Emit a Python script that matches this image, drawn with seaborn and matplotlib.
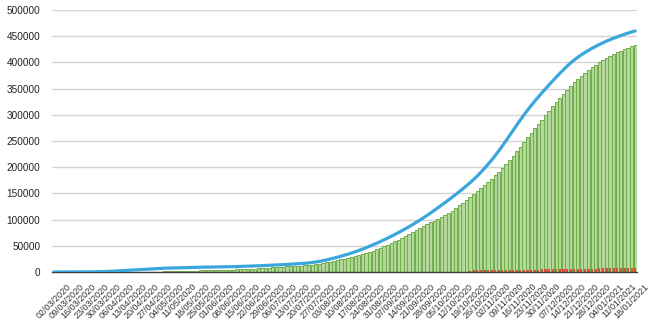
import numpy as np
import pandas as pd
import matplotlib
matplotlib.use("Agg")
import matplotlib.pyplot as plt
import matplotlib.transforms as mtransforms
import seaborn as sns

# ---- data (sampled every 2 days from 02/03/2020) ----
start_date = "2020-03-02"
step_days = 2

cases = [
    0, 10, 20, 30, 40, 60, 80, 100, 130, 170,
    250, 350, 500, 650, 800, 1000, 1500, 1800, 2200, 2600,
    3000, 3400, 3800, 4200, 4600, 5000, 5300, 5700, 6100, 6500,
    7000, 7300, 7500, 7800, 8000, 8300, 8500, 8600, 8700, 8900,
    9000, 9100, 9200, 9300, 9500, 9600, 9700, 9800, 9900, 10000,
    10200, 10400, 10500, 10800, 11000, 11300, 11600, 11800, 12100, 12400,
    12700, 13000, 13300, 13700, 14100, 14500, 14900, 15300, 15700, 16000,
    16600, 17300, 18100, 19100, 20200, 21500, 23000, 24700, 26400, 28200,
    30100, 32000, 34100, 36300, 38600, 41000, 43600, 46300, 49100, 52000,
    55000, 58100, 61300, 64600, 68000, 71500, 75100, 78800, 82600, 86500,
    90500, 94700, 99000, 103400, 108000, 112700, 117500, 122400, 127400, 132400,
    137500, 142700, 148000, 153400, 158900, 164600, 170500, 176700, 183300, 190300,
    197700, 205500, 213700, 222300, 231300, 240700, 250500, 260500, 270500, 280500,
    290300, 299800, 308900, 317600, 326000, 334100, 341900, 349600, 357200, 364700,
    372000, 379100, 386000, 392700, 399000, 404600, 409800, 414600, 419000, 423100,
    427000, 430700, 434200, 437500, 440600, 443500, 446200, 448800, 451300, 453700,
    456000, 458100, 460000,
]

green_values = [
    0, 0, 0, 0, 0, 0, 0, 0, 0, 0,
    0, 0, 0, 0, 0, 0, 0, 0, 0, 0,
    100, 150, 200, 250, 300, 400, 500, 550, 600, 700,
    800, 1000, 1200, 1400, 1600, 1800, 2000, 2200, 2400, 2600,
    2800, 2950, 3100, 3300, 3500, 3700, 3850, 4000, 4200, 4400,
    4600, 4800, 5000, 5400, 5700, 6000, 6500, 6900, 7400, 7900,
    8400, 8800, 9200, 9600, 10000, 10500, 11000, 11400, 11800, 12200,
    12600, 13000, 14000, 15100, 16200, 17400, 18600, 20000, 21300, 22600,
    24000, 25500, 27000, 28500, 30200, 32000, 34000, 36200, 38500, 41000,
    43600, 46300, 49100, 52000, 55000, 58500, 62000, 65600, 69300, 73100,
    76900, 80700, 84600, 88500, 91800, 95000, 98200, 101500, 104900, 108600,
    112600, 117000, 121800, 127000, 132500, 138000, 143500, 149000, 154600, 160300,
    166000, 171900, 178000, 184400, 191100, 198200, 205700, 213600, 221900, 230400,
    239100, 247900, 256700, 265400, 274000, 282500, 290900, 299300, 307700, 316000,
    324200, 332300, 340200, 347800, 355100, 362000, 368500, 374600, 380300, 385600,
    390600, 395400, 400000, 404400, 408500, 412300, 415800, 419000, 422000, 424900,
    427700, 430500, 433300,
]

red_values = [
    0, 0, 0, 0, 0, 0, 0, 0, 0, 0,
    0, 0, 0, 0, 0, 0, 0, 0, 0, 0,
    0, 0, 0, 0, 0, 0, 0, 0, 0, 0,
    0, 0, 0, 0, 0, 0, 0, 0, 0, 0,
    0, 0, 0, 0, 0, 0, 0, 0, 0, 0,
    0, 0, 0, 0, 0, 0, 0, 0, 0, 0,
    0, 0, 0, 0, 0, 0, 0, 0, 0, 0,
    0, 0, 0, 0, 0, 0, 0, 0, 0, 0,
    0, 0, 0, 0, 0, 0, 0, 0, 0, 0,
    0, 0, 0, 0, 0, 0, 0, 0, 0, 0,
    0, 0, 0, 0, 0, 0, 0, 0, 0, 0,
    0, 0, 0, 0, 0, 0, 2800, 2900, 3000, 3000,
    3100, 3200, 3200, 3300, 3400, 3400, 3500, 3600, 3700, 3800,
    3800, 3900, 4000, 4100, 4200, 4300, 5500, 5800, 6000, 6100,
    6200, 6300, 6300, 6400, 6400, 6500, 6500, 6500, 6600, 6600,
    6600, 6600, 6700, 6700, 6700, 6700, 6700, 6800, 6800, 6800,
    6800, 6800, 6800,
]

tick_dates = pd.date_range("2020-03-02", "2021-01-18", freq="7D")
tick_labels = list(tick_dates.strftime("%d/%m/%Y"))

# ---- build frame ----
day = np.arange(len(cases)) * step_days
df = pd.DataFrame({"day": day, "cases": cases,
                   "green": green_values, "red": red_values})

sns.set_style("white")
plt.rcParams["font.family"] = ["Liberation Sans", "DejaVu Sans"]

fig = plt.figure(figsize=(6.6, 3.3), dpi=100)
ax = fig.add_axes([52 / 660, 58 / 330, 585 / 660, 262 / 330])

sns.barplot(data=df, x="day", y="green", native_scale=True, width=0.9,
            color="#b4d89b", edgecolor="#6fae48", linewidth=0.7,
            saturation=1, errorbar=None, ax=ax)
sns.barplot(data=df, x="day", y="red", native_scale=True, width=0.6,
            color="#d9503a", saturation=1, errorbar=None, linewidth=0, ax=ax)
sns.lineplot(data=df, x="day", y="cases", color="#3ba6dc", linewidth=2.3,
             ax=ax, zorder=5)

ax.set_xlim(-1, 325)
ax.set_ylim(0, 500000)
ax.set_xlabel("")
ax.set_ylabel("")

yt = np.arange(0, 500001, 50000)
ax.set_yticks(yt)
ax.set_yticklabels([str(v) for v in yt], fontsize=7.2, color="#222222")
ax.yaxis.grid(True, color="#d4d4d4", linewidth=1.0)
ax.xaxis.grid(False)
ax.set_axisbelow(True)

for s in ["top", "right", "left"]:
    ax.spines[s].set_visible(False)
ax.spines["bottom"].set_color("#404040")
ax.spines["bottom"].set_linewidth(1.0)

xt = np.arange(0, 7 * len(tick_labels), 7)
ax.set_xticks(xt)
ax.set_xticklabels(tick_labels, rotation=45, ha="right", va="center",
                   rotation_mode="anchor", fontsize=6.5, color="#333333")
ax.tick_params(axis="x", length=0, pad=9.5)
ax.tick_params(axis="y", length=0, pad=8.5)

offset = mtransforms.ScaledTranslation(16 / 100, 0, fig.dpi_scale_trans)
for lbl in ax.get_xticklabels():
    lbl.set_transform(lbl.get_transform() + offset)

fig.savefig("out.png", dpi=100)
